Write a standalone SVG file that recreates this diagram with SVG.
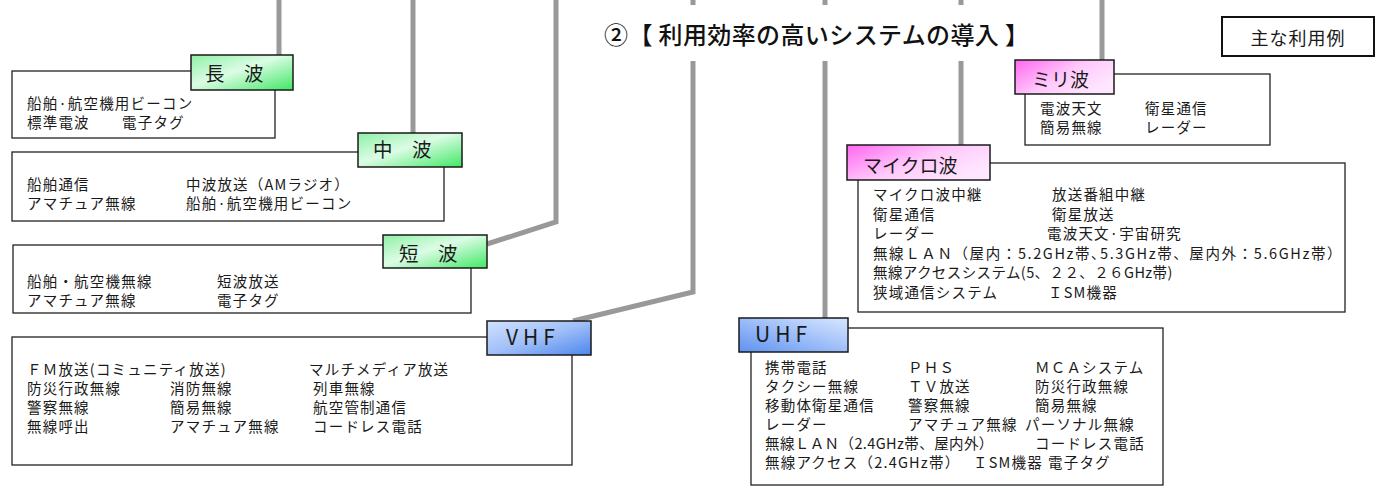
<svg xmlns="http://www.w3.org/2000/svg" width="1383" height="495" viewBox="0 0 1383 495">
<defs>
<linearGradient id="gGreen" x1="0" y1="0" x2="1" y2="1">
<stop offset="0" stop-color="#8ef0a6"/><stop offset="0.45" stop-color="#dcfce5"/><stop offset="1" stop-color="#3fe864"/>
</linearGradient>
<linearGradient id="gPink" x1="0" y1="0" x2="1" y2="0.6">
<stop offset="0" stop-color="#ff66f0"/><stop offset="0.55" stop-color="#ffc8fb"/><stop offset="1" stop-color="#ffe6ff"/>
</linearGradient>
<linearGradient id="gBlue" x1="0" y1="0" x2="1" y2="1">
<stop offset="0" stop-color="#d2e2ff"/><stop offset="0.5" stop-color="#9fbff7"/><stop offset="1" stop-color="#4d85ee"/>
</linearGradient>
<linearGradient id="gBlue2" x1="0" y1="1" x2="1" y2="0">
<stop offset="0" stop-color="#5f92f0"/><stop offset="0.6" stop-color="#a9c6fa"/><stop offset="1" stop-color="#d8e6ff"/>
</linearGradient>
</defs>
<style>
.t{font-family:"Noto Sans CJK JP","Noto Sans",sans-serif;font-size:14.5px;letter-spacing:1.2px;fill:#1a1a1a}
.lb{font-family:"Noto Sans CJK JP","Noto Sans",sans-serif;font-size:19.5px;fill:#1a1a1a}
.lat{font-family:"Noto Sans CJK JP","Noto Sans",sans-serif;font-size:21px;fill:#1a1a1a;letter-spacing:5px}
.box{fill:#ffffff;stroke:#222;stroke-width:1.3}
.lab{stroke:#1a1a1a;stroke-width:1.5}
.conn{fill:none;stroke:#999999;stroke-width:5;stroke-linejoin:miter}
.title{font-family:"Noto Sans CJK JP","Noto Sans",sans-serif;font-size:24px;font-weight:500;fill:#111}
.tight{letter-spacing:0.4px}
</style>
<rect width="1383" height="495" fill="#ffffff"/>
<g id="connectors">
<path class="conn" d="M279 0V56"/>
<path class="conn" d="M413 0V134"/>
<path class="conn" d="M556 0V222L487 244"/>
<path class="conn" d="M693 0V5M693 61V292L573 321"/>
<path class="conn" d="M825 0V5M825 61V319"/>
<path class="conn" d="M961 0V5M961 61V146"/>
<path class="conn" d="M1102 0V61"/>
</g>
<g id="title">
<text class="title" x="604" y="44" textLength="425" lengthAdjust="spacing">②【 利用効率の高いシステムの導入 】</text>
</g>
<g id="legend">
<rect x="1222" y="17" width="152" height="39" fill="#fff" stroke="#111" stroke-width="2"/>
<text class="t" x="1298" y="45" text-anchor="middle" style="font-size:18px;letter-spacing:1px">主な利用例</text>
</g>
<g id="longwave">
<rect class="box" x="12" y="71" width="263" height="67"/>
<rect class="lab" x="191" y="55" width="102" height="35" fill="url(#gGreen)"/>
<text class="lb" x="205" y="81">長　波</text>
<text class="t"><tspan x="27" y="109">船舶·航空機用ビーコン</tspan><tspan x="27" y="128">標準電波</tspan><tspan x="122" y="128">電子タグ</tspan></text>
</g>
<g id="mediumwave">
<rect class="box" x="12" y="152" width="432" height="69"/>
<rect class="lab" x="358" y="133" width="104" height="34" fill="url(#gGreen)"/>
<text class="lb" x="373" y="157">中　波</text>
<text class="t"><tspan x="27" y="190">船舶通信</tspan><tspan x="186" y="190">中波放送（AMラジオ）</tspan><tspan x="27" y="209">アマチュア無線</tspan><tspan x="186" y="209">船舶·航空機用ビーコン</tspan></text>
</g>
<g id="shortwave">
<rect class="box" x="13" y="245" width="458" height="68"/>
<rect class="lab" x="383" y="235" width="104" height="33" fill="url(#gGreen)"/>
<text class="lb" x="399" y="261">短　波</text>
<text class="t"><tspan x="27" y="287">船舶・航空機無線</tspan><tspan x="217" y="287">短波放送</tspan><tspan x="27" y="306">アマチュア無線</tspan><tspan x="217" y="306">電子タグ</tspan></text>
</g>
<g id="vhf">
<rect class="box" x="12" y="337" width="560" height="128"/>
<rect class="lab" x="487" y="321" width="104" height="34" fill="url(#gBlue)"/>
<text class="lat" x="506" y="345">VHF</text>
<text class="t"><tspan x="27" y="375">ＦＭ放送(コミュニティ放送)</tspan><tspan x="309" y="375">マルチメディア放送</tspan><tspan x="27" y="394">防災行政無線</tspan><tspan x="170" y="394">消防無線</tspan><tspan x="313" y="394">列車無線</tspan><tspan x="27" y="413">警察無線</tspan><tspan x="170" y="413">簡易無線</tspan><tspan x="313" y="413">航空管制通信</tspan><tspan x="27" y="432">無線呼出</tspan><tspan x="170" y="432">アマチュア無線</tspan><tspan x="313" y="432">コードレス電話</tspan></text>
</g>
<g id="uhf">
<rect class="box" x="751" y="328" width="412" height="157"/>
<rect class="lab" x="739" y="318" width="109" height="34" fill="url(#gBlue2)"/>
<text class="lat" x="755" y="342">UHF</text>
<text class="t"><tspan x="765" y="373">携帯電話</tspan><tspan x="908" y="373">ＰＨＳ</tspan><tspan x="1035" y="373">ＭＣＡシステム</tspan><tspan x="765" y="392">タクシー無線</tspan><tspan x="908" y="392">ＴＶ放送</tspan><tspan x="1035" y="392">防災行政無線</tspan><tspan x="765" y="411">移動体衛星通信</tspan><tspan x="908" y="411">警察無線</tspan><tspan x="1035" y="411">簡易無線</tspan><tspan x="765" y="430">レーダー</tspan><tspan x="908" y="430">アマチュア無線</tspan><tspan x="1025" y="430">パーソナル無線</tspan><tspan x="765" y="449" class="tight">無線ＬＡＮ（2.4GHz帯、屋内外）</tspan><tspan x="1035" y="449">コードレス電話</tspan><tspan x="765" y="468">無線アクセス（2.4GHz帯）</tspan><tspan x="973" y="468">ＩSM機器</tspan><tspan x="1048" y="468">電子タグ</tspan></text>
</g>
<g id="microwave">
<rect class="box" x="858" y="163" width="487" height="149"/>
<rect class="lab" x="847" y="145" width="143" height="35" fill="url(#gPink)"/>
<text class="lb" x="863" y="173" style="font-size:19px">マイクロ波</text>
<text class="t"><tspan x="873" y="200">マイクロ波中継</tspan><tspan x="1052" y="200">放送番組中継</tspan><tspan x="873" y="219.5">衛星通信</tspan><tspan x="1052" y="219.5">衛星放送</tspan><tspan x="873" y="239">レーダー</tspan><tspan x="1047" y="239">電波天文·宇宙研究</tspan><tspan x="873" y="258.5" style="letter-spacing:1.6px">無線ＬＡＮ（屋内：5.2GHz帯､5.3GHz帯、屋内外：5.6GHz帯）</tspan><tspan x="873" y="278" class="tight">無線アクセスシステム(5、２２、２６GHz帯)</tspan><tspan x="873" y="297.5">狭域通信システム</tspan><tspan x="1048" y="297.5">ＩSM機器</tspan></text>
</g>
<g id="millimeter">
<rect class="box" x="1025" y="74" width="245" height="71"/>
<rect class="lab" x="1015" y="60" width="99" height="34" fill="url(#gPink)"/>
<text class="lb" x="1032" y="87" style="font-size:19px">ミリ波</text>
<text class="t"><tspan x="1040" y="114">電波天文</tspan><tspan x="1145" y="114">衛星通信</tspan><tspan x="1040" y="133">簡易無線</tspan><tspan x="1145" y="133">レーダー</tspan></text>
</g>
</svg>
